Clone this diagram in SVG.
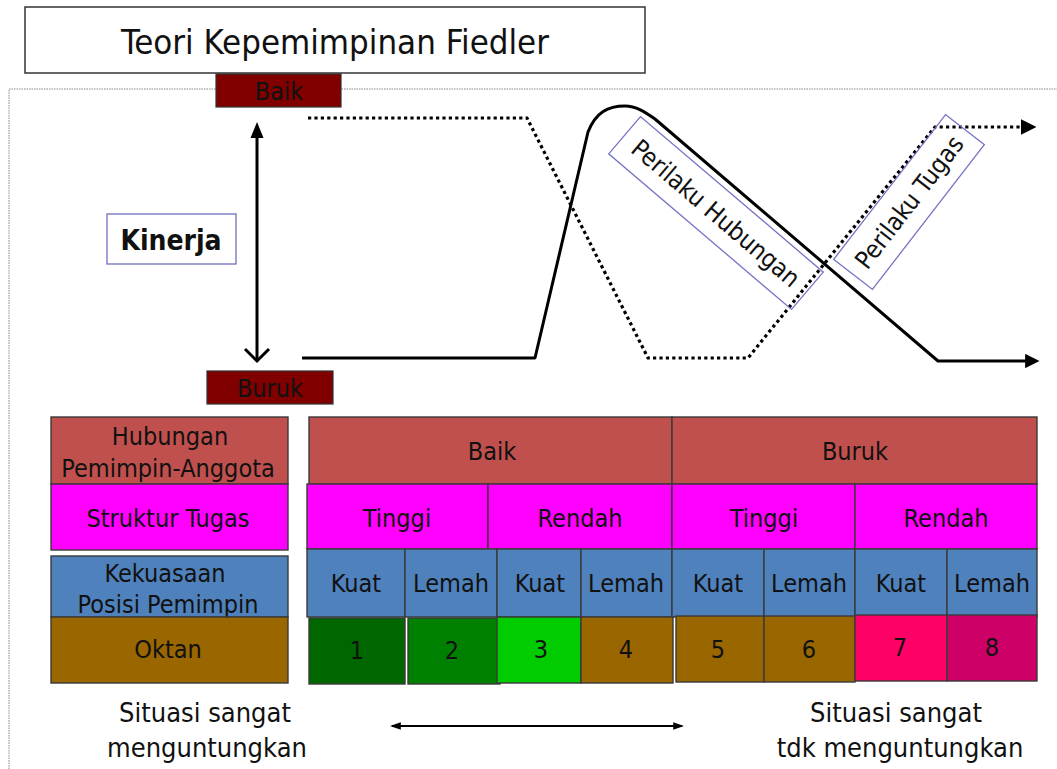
<svg xmlns="http://www.w3.org/2000/svg" width="1057" height="769" viewBox="0 0 1057 769">
<style>
text{font-family:"DejaVu Sans Condensed","DejaVu Sans",sans-serif;fill:#111;text-anchor:middle}
.cell{stroke:#3a3a3a;stroke-width:1.4}
.t25{font-size:25px}
.rel{fill:#c0504d}.mag{fill:#ff00ff}.blu{fill:#4f81bd}.brn{fill:#996600}
.maroon{fill:#800000;stroke:#333;stroke-width:1.2}
.lbl{fill:none;stroke:#7474c4;stroke-width:1.3}
.solid{fill:none;stroke:#000;stroke-width:3;stroke-linejoin:round}
.dot{fill:none;stroke:#000;stroke-width:3.2;stroke-dasharray:3.2 3.2}
</style>
<defs>
<marker id="tri" viewBox="0 0 10 10" refX="2" refY="5" markerWidth="4.8" markerHeight="4.8" orient="auto" markerUnits="strokeWidth">
<path d="M0,0 L10,5 L0,10 z" fill="#000"/>
</marker>
<marker id="small" viewBox="0 0 10 10" refX="8" refY="5" markerWidth="5.5" markerHeight="5.5" orient="auto-start-reverse" markerUnits="strokeWidth">
<path d="M0,1.5 L10,5 L0,8.5 z" fill="#000"/>
</marker>
</defs>
<rect width="1057" height="769" fill="#fff"/>
<rect x="9" y="89" width="1100" height="720" fill="none" stroke="#b0b0b0" stroke-width="1.5" stroke-dasharray="1.5 1"/>

<g id="title">
<rect x="25" y="7" width="620" height="66" fill="#fff" stroke="#333" stroke-width="1.5"/>
<text x="335" y="54" style="font-size:34.5px">Teori Kepemimpinan Fiedler</text>
</g>

<g id="baik-top">
<rect class="maroon" x="216" y="74" width="125" height="33"/>
<text x="279" y="100" style="font-size:25px">Baik</text>
</g>
<g id="buruk-bottom">
<rect class="maroon" x="207" y="371" width="126" height="33"/>
<text x="270" y="397" style="font-size:25px">Buruk</text>
</g>
<g id="kinerja">
<rect x="107" y="214" width="129" height="50" fill="#fff" stroke="#6f6fc0" stroke-width="1.3"/>
<text x="171" y="250" style="font-size:28px;font-weight:bold">Kinerja</text>
</g>

<g id="connectors">
<line x1="257" y1="134" x2="257" y2="360" stroke="#000" stroke-width="3"/>
<path d="M250.5,138 L257,122 L263.5,138 z" fill="#000"/>
<polyline points="245,349 257,361 269,349" fill="none" stroke="#000" stroke-width="3"/>
<path class="solid" d="M302,358 H535 L588,132 C596,112 608,106 625,106 C636,106 645,112 655,119 L938,361 H1028" marker-end="url(#tri)"/>
<path class="dot" d="M308,118 H527 L648,358 H748 L935,127 H1024" marker-end="url(#tri)"/>
<line x1="392" y1="726" x2="682" y2="726" stroke="#000" stroke-width="2" marker-start="url(#small)" marker-end="url(#small)"/>
</g>

<g id="perilaku-hubungan" transform="translate(716,213) rotate(40.4)">
<rect class="lbl" x="-120" y="-24.5" width="240" height="49"/>
<text x="0" y="9" class="t25">Perilaku Hubungan</text>
</g>
<g id="perilaku-tugas" transform="translate(909,202) rotate(-52.3)">
<rect class="lbl" x="-91.5" y="-24.5" width="183" height="49"/>
<text x="0" y="9" class="t25">Perilaku Tugas</text>
</g>

<g id="lbl-hubungan">
<rect class="cell rel" x="51" y="417" width="237" height="67"/>
<text x="170" y="445" class="t25">Hubungan</text>
<text x="168" y="477" class="t25">Pemimpin-Anggota</text>
</g>
<g id="lbl-struktur">
<rect class="cell mag" x="51" y="484" width="237" height="66"/>
<text x="168" y="527" class="t25">Struktur Tugas</text>
</g>
<g id="lbl-kekuasaan">
<rect class="cell blu" x="51" y="556" width="237" height="61"/>
<text x="165" y="582" class="t25">Kekuasaan</text>
<text x="168" y="613" class="t25">Posisi Pemimpin</text>
</g>
<g id="lbl-oktan">
<rect class="cell brn" x="51" y="617" width="237" height="66"/>
<text x="168" y="658" class="t25">Oktan</text>
</g>

<g id="h-baik"><rect class="cell rel" x="309" y="417" width="363" height="67"/><text x="492" y="460" class="t25">Baik</text></g>
<g id="h-buruk"><rect class="cell rel" x="672" y="417" width="365" height="67"/><text x="855" y="460" class="t25">Buruk</text></g>

<g id="s-tinggi1"><rect class="cell mag" x="307" y="484" width="181" height="65"/><text x="397" y="527" class="t25">Tinggi</text></g>
<g id="s-rendah1"><rect class="cell mag" x="488" y="484" width="184" height="65"/><text x="580" y="527" class="t25">Rendah</text></g>
<g id="s-tinggi2"><rect class="cell mag" x="672" y="484" width="183" height="65"/><text x="764" y="527" class="t25">Tinggi</text></g>
<g id="s-rendah2"><rect class="cell mag" x="855" y="484" width="182" height="65"/><text x="946" y="527" class="t25">Rendah</text></g>

<g id="k1"><rect class="cell blu" x="307" y="549" width="98" height="68"/><text x="356" y="592" class="t25">Kuat</text></g>
<g id="k2"><rect class="cell blu" x="405" y="549" width="92" height="68"/><text x="451" y="592" class="t25">Lemah</text></g>
<g id="k3"><rect class="cell blu" x="497" y="549" width="84" height="68"/><text x="540" y="592" class="t25">Kuat</text></g>
<g id="k4"><rect class="cell blu" x="581" y="549" width="91" height="68"/><text x="626" y="592" class="t25">Lemah</text></g>
<g id="k5"><rect class="cell blu" x="672" y="549" width="92" height="68"/><text x="718" y="592" class="t25">Kuat</text></g>
<g id="k6"><rect class="cell blu" x="764" y="549" width="91" height="68"/><text x="809" y="592" class="t25">Lemah</text></g>
<g id="k7"><rect class="cell blu" x="855" y="549" width="92" height="68"/><text x="901" y="592" class="t25">Kuat</text></g>
<g id="k8"><rect class="cell blu" x="947" y="549" width="90" height="68"/><text x="992" y="592" class="t25">Lemah</text></g>

<g id="o1"><rect class="cell" fill="#006600" x="309" y="618" width="96" height="66"/><text x="357" y="659" class="t25">1</text></g>
<g id="o2"><rect class="cell" fill="#008000" x="408" y="618" width="92" height="66"/><text x="452" y="659" class="t25">2</text></g>
<g id="o3"><rect class="cell" fill="#00cc00" x="497" y="617" width="84" height="66"/><text x="541" y="658" class="t25">3</text></g>
<g id="o4"><rect class="cell brn" x="581" y="617" width="92" height="66"/><text x="626" y="658" class="t25">4</text></g>
<g id="o5"><rect class="cell brn" x="676" y="616" width="88" height="66"/><text x="718" y="658" class="t25">5</text></g>
<g id="o6"><rect class="cell brn" x="764" y="616" width="91" height="66"/><text x="809" y="658" class="t25">6</text></g>
<g id="o7"><rect class="cell" fill="#ff0066" x="855" y="615" width="92" height="66"/><text x="900" y="656" class="t25">7</text></g>
<g id="o8"><rect class="cell" fill="#cc0066" x="947" y="615" width="90" height="66"/><text x="992" y="656" class="t25">8</text></g>

<g id="left-caption">
<text x="205" y="722" style="font-size:27px">Situasi sangat</text>
<text x="207" y="757" style="font-size:27px">menguntungkan</text>
</g>
<g id="right-caption">
<text x="896" y="722" style="font-size:27px">Situasi sangat</text>
<text x="900" y="757" style="font-size:27px">tdk menguntungkan</text>
</g>
</svg>
